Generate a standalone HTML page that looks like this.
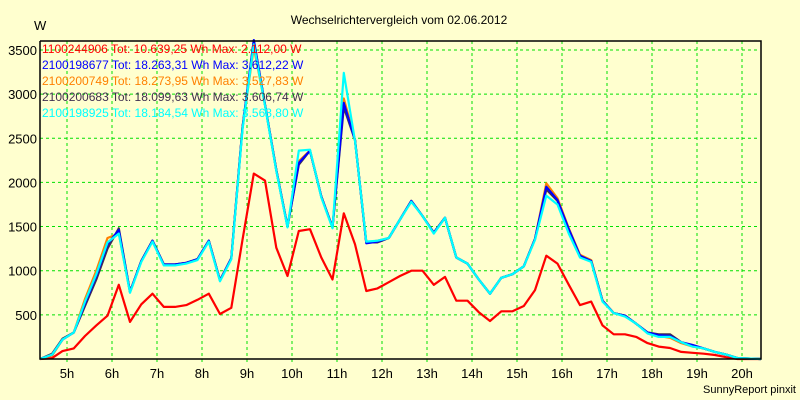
<!DOCTYPE html>
<html><head><meta charset="utf-8"><style>
body{margin:0;background:#FFFFCF;}
svg{display:block;font-family:"Liberation Sans",sans-serif;}
</style></head><body>
<svg id="chart" width="800" height="400">
<rect x="0" y="0" width="800" height="400" fill="#FFFFCF"/>
<text x="399" y="24" font-size="12" text-anchor="middle" fill="#000">Wechselrichtervergleich vom 02.06.2012</text>
<text x="34" y="30" font-size="13" fill="#000">W</text>
<g id="grid"></g>
<g id="ticks"></g>
<g id="series"></g>
<g id="axes"></g>
<g id="legend"></g>
<text x="796" y="393" font-size="11" text-anchor="end" fill="#000">SunnyReport pinxit</text>
</svg>
<script>
const times=[4.4,4.67,4.9,5.15,5.4,5.65,5.9,6.15,6.4,6.65,6.9,7.15,7.4,7.65,7.9,8.15,8.4,8.65,8.9,9.15,9.4,9.65,9.9,10.15,10.4,10.65,10.9,11.15,11.4,11.65,11.9,12.15,12.4,12.65,12.9,13.15,13.4,13.65,13.9,14.15,14.4,14.65,14.9,15.15,15.4,15.65,15.9,16.15,16.4,16.65,16.9,17.15,17.4,17.65,17.9,18.15,18.4,18.65,18.9,19.15,19.4,19.65,19.9,20.42];
const redVals=[0,10,90,120,260,380,490,840,420,620,740,590,590,610,670,740,510,580,1350,2100,2020,1260,940,1450,1470,1150,900,1650,1300,770,800,870,940,1000,1000,840,930,660,660,530,430,540,540,600,780,1170,1080,840,610,650,380,280,280,250,180,140,125,80,70,60,45,20,0,0];
const orangeVals=[0,40,220,300,680,1000,1370,1420,760,1110,1340,1070,1070,1090,1130,1340,890,1140,2620,3528,2880,2140,1500,2240,2360,1840,1490,2950,2480,1320,1340,1370,1580,1790,1620,1430,1600,1150,1080,900,740,920,960,1050,1360,1990,1820,1480,1180,1120,660,520,490,400,300,260,240,180,140,120,80,50,10,0];
const darkVals=[0,60,230,300,600,900,1250,1480,760,1110,1340,1070,1070,1090,1130,1340,890,1140,2620,3607,2880,2140,1500,2200,2360,1840,1490,2850,2480,1320,1320,1370,1580,1790,1620,1430,1600,1150,1080,900,740,920,960,1050,1360,1920,1790,1460,1160,1110,660,520,490,400,300,280,280,190,150,120,80,50,10,0];
const blueVals=[0,50,220,300,630,940,1300,1460,760,1110,1340,1070,1070,1090,1130,1340,890,1140,2620,3612,2880,2140,1500,2220,2360,1840,1490,2900,2480,1310,1330,1370,1580,1790,1620,1430,1600,1150,1080,900,740,920,960,1050,1360,1950,1800,1470,1170,1110,660,520,490,400,300,270,260,190,160,120,80,50,10,0];
const cyanVals=[0,50,220,300,650,960,1320,1420,750,1100,1330,1060,1060,1080,1120,1330,880,1130,2600,3564,2870,2130,1490,2360,2370,1830,1480,3240,2470,1330,1340,1370,1580,1780,1620,1420,1600,1150,1080,900,740,920,960,1050,1350,1850,1750,1420,1150,1100,650,520,480,400,290,250,250,190,140,120,80,50,10,0];
const yTicks=[500,1000,1500,2000,2500,3000,3500];
const xTicks=[5,6,7,8,9,10,11,12,13,14,15,16,17,18,19,20];
const legendLabels=["1100244906 Tot: 10.639,25 Wh Max: 2.112,00 W","2100198677 Tot: 18.263,31 Wh Max: 3.612,22 W","2100200749 Tot: 18.273,95 Wh Max: 3.527,83 W","2100200683 Tot: 18.099,63 Wh Max: 3.606,74 W","2100198925 Tot: 18.184,54 Wh Max: 3.563,80 W"];
const NS="http://www.w3.org/2000/svg";
const L=40,R=760,T=41,B=359;
const xs=h=>67+(h-5)*45;
const ys=v=>B-v*0.0883;
function mk(tag,attrs,parent){const e=document.createElementNS(NS,tag);for(const k in attrs)e.setAttribute(k,attrs[k]);parent.appendChild(e);return e;}
const grid=document.getElementById('grid'),ticks=document.getElementById('ticks');
yTicks.forEach(v=>{
 const l=mk('line',{x1:L,x2:R,y1:ys(v),y2:ys(v),stroke:'#00E000','stroke-dasharray':'3,3'},grid);
 
 
 const t=mk('text',{x:37,y:ys(v)+5,'font-size':13,'text-anchor':'end',fill:'#000'},ticks);
 t.textContent=v;
 
 
});
xTicks.forEach(h=>{
 const l=mk('line',{x1:xs(h),x2:xs(h),y1:T,y2:B+6,stroke:'#00E000','stroke-dasharray':'3,3'},grid);
 
 
 const t=mk('text',{x:xs(h),y:378,'font-size':13,'text-anchor':'middle',fill:'#000'},ticks);
 t.textContent=h+'h';
 
 
});
const seriesG=document.getElementById('series');
const order=[[redVals,'#FF0000','red-series-line'],[orangeVals,'#FF8000','orange-series-line'],[darkVals,'#403050','dark-series-line'],[blueVals,'#0000FF','blue-series-line'],[cyanVals,'#00FFFF','cyan-series-line']];
order.forEach(([vals,col,name])=>{
 const pts=times.map((h,i)=>xs(h).toFixed(1)+','+ys(vals[i]).toFixed(1)).join(' ');
 const p=mk('polyline',{points:pts,fill:'none',stroke:col,'stroke-width':2.2,'stroke-linejoin':'round'},seriesG);
 
 
});
const axes=document.getElementById('axes');
const ax=mk('path',{d:`M${L},${T} V${B} H${R+1} V${T} H${L}`,fill:'none',stroke:'#000','stroke-width':1.5},axes);


const legColors=['#FF0000','#0000FF','#FF8000','#403050','#00FFFF'];
const lg=document.getElementById('legend');
legendLabels.forEach((s,i)=>{
 const t=mk('text',{x:42,y:53+i*16,'font-size':12,fill:legColors[i]},lg);
 t.textContent=s;
 
 
});
</script>
</body></html>
